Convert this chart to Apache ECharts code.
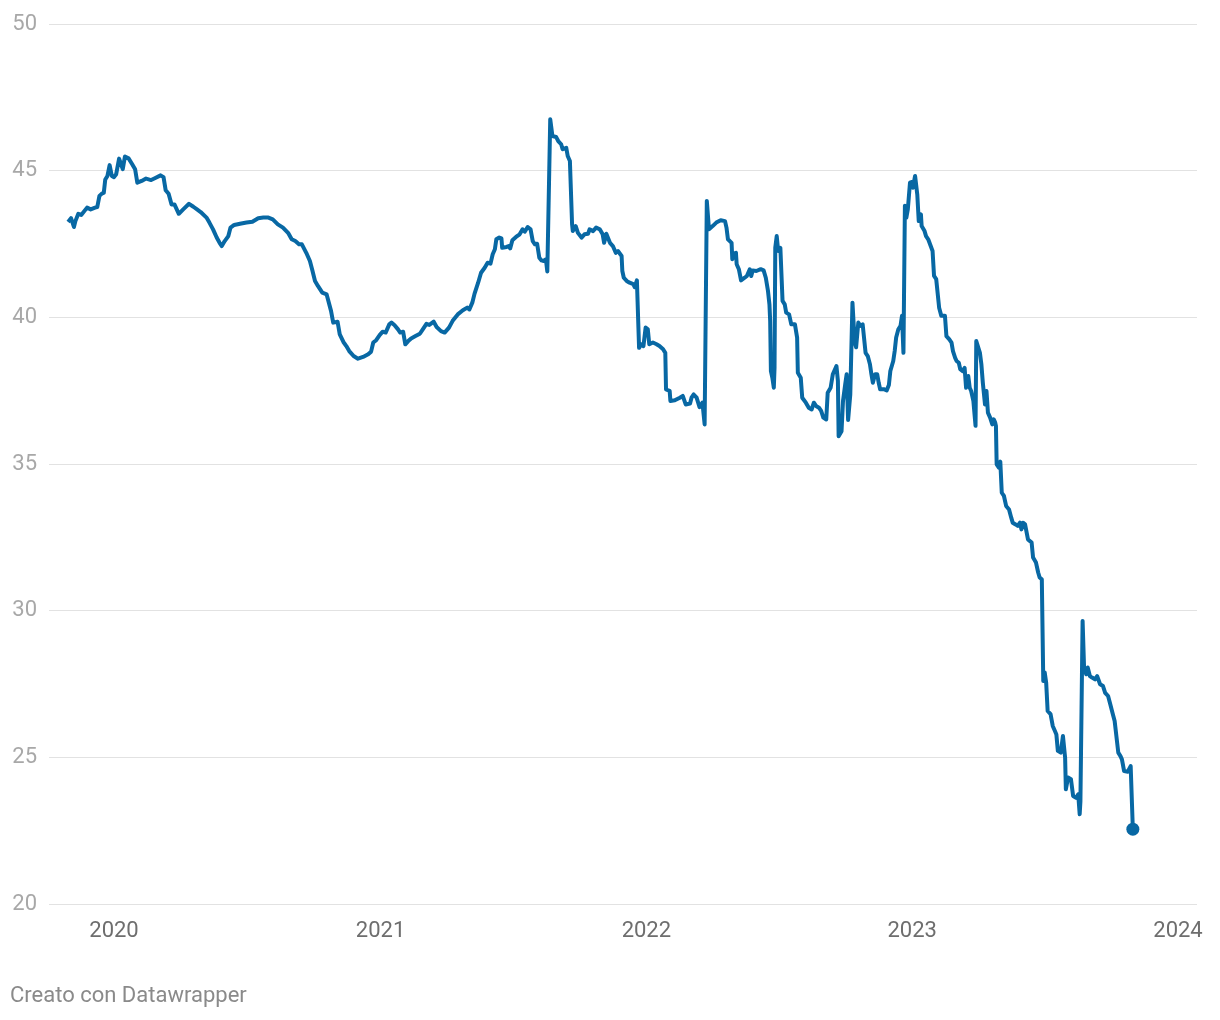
<!DOCTYPE html>
<html><head><meta charset="utf-8">
<script src="https://cdn.jsdelivr.net/npm/echarts@6/dist/echarts.min.js"></script>
<style>html,body{margin:0;padding:0;background:#fff}#c{width:1220px;height:1020px}</style>
</head><body><div id="c"></div>
<script>
const dates = [
'2019-10-30','2019-11-03','2019-11-07','2019-11-09','2019-11-13','2019-11-17','2019-11-25','2019-11-30','2019-12-06','2019-12-09','2019-12-12','2019-12-15','2019-12-18','2019-12-20','2019-12-23','2019-12-26','2019-12-29',
'2020-01-01','2020-01-04','2020-01-08','2020-01-13','2020-01-16','2020-01-21','2020-01-26','2020-01-30','2020-02-02','2020-02-08','2020-02-14','2020-02-21','2020-02-26','2020-03-05','2020-03-09','2020-03-12','2020-03-16','2020-03-20','2020-03-24','2020-03-30','2020-04-05','2020-04-13','2020-04-19','2020-04-24','2020-04-29',
'2020-05-07','2020-05-11','2020-05-16','2020-05-21','2020-05-25','2020-05-28','2020-06-01','2020-06-06','2020-06-09','2020-06-14','2020-06-22','2020-07-01','2020-07-09','2020-07-17','2020-07-24','2020-07-31','2020-08-06','2020-08-13','2020-08-20','2020-08-27','2020-09-01','2020-09-06','2020-09-11','2020-09-15','2020-09-21','2020-09-26','2020-09-29','2020-10-03','2020-10-07','2020-10-13','2020-10-19','2020-10-21','2020-10-25','2020-10-28','2020-11-03','2020-11-06','2020-11-11',
'2020-11-15','2020-11-19','2020-11-25','2020-12-01','2020-12-08','2020-12-15','2020-12-19','2020-12-22','2020-12-26','2020-12-31',
'2021-01-04','2021-01-08','2021-01-13','2021-01-16','2021-01-20','2021-01-25','2021-01-28','2021-02-01','2021-02-04','2021-02-08','2021-02-12','2021-02-18','2021-02-24','2021-02-28','2021-03-05','2021-03-09','2021-03-15','2021-03-19','2021-03-25','2021-03-30','2021-04-05','2021-04-10','2021-04-17','2021-04-24','2021-04-30','2021-05-03','2021-05-07','2021-05-10','2021-05-15','2021-05-19','2021-05-24','2021-05-28',
'2021-06-01','2021-06-04','2021-06-07','2021-06-09','2021-06-13','2021-06-16','2021-06-17','2021-06-23','2021-06-26','2021-06-28','2021-07-01','2021-07-06','2021-07-11','2021-07-15','2021-07-18','2021-07-22','2021-07-26','2021-07-29','2021-08-01','2021-08-04','2021-08-07','2021-08-10','2021-08-13','2021-08-16','2021-08-18','2021-08-22','2021-08-25','2021-08-30','2021-09-02','2021-09-06','2021-09-08','2021-09-13','2021-09-15','2021-09-18','2021-09-20','2021-09-21','2021-09-22','2021-09-26','2021-09-29','2021-10-04','2021-10-08','2021-10-13','2021-10-15','2021-10-20','2021-10-24',
'2021-10-29','2021-11-02','2021-11-04','2021-11-07','2021-11-09','2021-11-12','2021-11-16','2021-11-20','2021-11-23','2021-11-28','2021-11-29','2021-12-01','2021-12-05','2021-12-09','2021-12-14','2021-12-16','2021-12-19','2021-12-21','2021-12-22','2021-12-25','2021-12-28','2021-12-31',
'2022-01-03','2022-01-05','2022-01-10','2022-01-15','2022-01-19','2022-01-24','2022-01-27','2022-01-28','2022-02-02','2022-02-03','2022-02-09','2022-02-16','2022-02-20','2022-02-24','2022-03-02','2022-03-04','2022-03-07','2022-03-11','2022-03-13','2022-03-15','2022-03-19','2022-03-22','2022-03-25','2022-03-28','2022-04-02',
'2022-04-07','2022-04-13','2022-04-19','2022-04-21','2022-04-23','2022-04-28','2022-04-29','2022-05-01','2022-05-04','2022-05-05','2022-05-08','2022-05-11','2022-05-16','2022-05-19','2022-05-23','2022-05-25','2022-05-27','2022-06-01','2022-06-07','2022-06-11','2022-06-14','2022-06-17','2022-06-19','2022-06-20','2022-06-21','2022-06-23','2022-06-25','2022-06-26','2022-06-27','2022-06-29','2022-07-01','2022-07-04','2022-07-06','2022-07-07','2022-07-10','2022-07-12','2022-07-16','2022-07-19','2022-07-24','2022-07-27','2022-07-28','2022-08-01','2022-08-03','2022-08-08','2022-08-12','2022-08-16','2022-08-19','2022-08-22','2022-08-26','2022-08-29','2022-09-01','2022-09-05','2022-09-07','2022-09-11','2022-09-14','2022-09-19','2022-09-21','2022-09-22','2022-09-26','2022-09-28','2022-10-01','2022-10-03','2022-10-05','2022-10-08','2022-10-11','2022-10-14','2022-10-16','2022-10-19',
'2022-10-22','2022-10-25','2022-10-27','2022-10-29','2022-11-01','2022-11-04','2022-11-06','2022-11-08','2022-11-11','2022-11-14','2022-11-16','2022-11-18','2022-11-23','2022-11-27','2022-11-30','2022-12-02','2022-12-06','2022-12-08','2022-12-10','2022-12-13','2022-12-16','2022-12-18','2022-12-20','2022-12-22','2022-12-24','2022-12-26','2022-12-29',
'2023-01-01','2023-01-02','2023-01-05','2023-01-08','2023-01-10','2023-01-13','2023-01-14','2023-01-18','2023-01-20','2023-01-23','2023-01-25','2023-01-29','2023-01-31','2023-02-03','2023-02-07','2023-02-10','2023-02-12','2023-02-15','2023-02-17','2023-02-21','2023-02-24','2023-02-26','2023-03-01','2023-03-03','2023-03-06','2023-03-08','2023-03-11','2023-03-14','2023-03-16','2023-03-19','2023-03-21','2023-03-23','2023-03-26','2023-03-29','2023-03-30','2023-04-01','2023-04-04','2023-04-06','2023-04-08','2023-04-11','2023-04-13','2023-04-15','2023-04-18','2023-04-21','2023-04-23','2023-04-25','2023-04-26','2023-04-27','2023-04-30',
'2023-05-02','2023-05-04','2023-05-07','2023-05-10','2023-05-14','2023-05-17','2023-05-19','2023-05-23','2023-05-26','2023-05-29','2023-05-31','2023-06-02','2023-06-05','2023-06-09','2023-06-14','2023-06-16','2023-06-20','2023-06-23','2023-06-25','2023-06-28','2023-06-30','2023-07-02','2023-07-04','2023-07-06','2023-07-10','2023-07-13','2023-07-16','2023-07-18','2023-07-20','2023-07-24','2023-07-27','2023-07-30','2023-07-31','2023-08-03','2023-08-07','2023-08-10','2023-08-14','2023-08-17','2023-08-19','2023-08-20','2023-08-23','2023-08-25','2023-08-28','2023-08-30','2023-09-02','2023-09-05','2023-09-09','2023-09-12','2023-09-14','2023-09-16','2023-09-20','2023-09-23','2023-09-27','2023-09-30','2023-10-03','2023-10-06','2023-10-08','2023-10-11','2023-10-14','2023-10-16','2023-10-19','2023-10-24','2023-10-28','2023-10-30','2023-10-31'
];
const values = [
43.25,43.38,43.08,43.28,43.53,43.49,43.74,43.68,43.74,43.76,44.14,44.21,44.25,44.70,44.82,45.19,44.82,
44.78,44.88,45.41,45.05,45.48,45.42,45.22,45.05,44.59,44.65,44.73,44.68,44.74,44.84,44.78,44.33,44.21,43.85,43.85,43.53,43.68,43.87,43.77,43.68,43.59,
43.40,43.23,43.00,42.72,42.54,42.43,42.60,42.77,43.06,43.15,43.19,43.23,43.26,43.38,43.40,43.40,43.34,43.17,43.06,42.88,42.66,42.60,42.49,42.49,42.20,41.92,41.64,41.24,41.07,40.84,40.78,40.73,40.22,39.82,39.85,39.42,39.16,
39.02,38.85,38.68,38.59,38.65,38.74,38.83,39.14,39.22,39.40,
39.51,39.48,39.76,39.82,39.74,39.59,39.48,39.51,39.08,39.19,39.28,39.36,39.44,39.59,39.78,39.74,39.85,39.67,39.53,39.48,39.65,39.88,40.10,40.24,40.33,40.27,40.50,40.80,41.18,41.52,41.69,41.86,
41.83,42.15,42.32,42.66,42.72,42.69,42.37,42.40,42.43,42.35,42.63,42.74,42.83,43.00,42.92,43.08,43.00,42.60,42.49,42.51,42.03,41.94,41.92,41.98,41.56,46.75,46.18,46.15,46.01,45.90,45.73,45.78,45.50,45.33,45.39,43.17,42.94,43.11,42.88,42.72,42.83,42.85,43.00,42.94,43.06,
43.00,42.83,42.54,42.85,42.83,42.54,42.43,42.20,42.26,42.09,41.58,41.35,41.24,41.18,41.13,41.03,41.26,41.30,38.96,39.08,39.02,39.65,
39.59,39.08,39.14,39.08,39.02,38.91,38.79,37.54,37.49,37.15,37.17,37.26,37.32,37.03,37.06,37.26,37.37,37.26,37.20,36.94,37.09,36.35,43.97,43.00,43.11,
43.23,43.31,43.28,43.06,42.66,42.54,41.98,42.17,42.20,41.81,41.64,41.26,41.35,41.41,41.64,41.41,41.60,41.58,41.64,41.60,41.35,40.90,40.44,39.88,38.17,37.94,37.60,38.28,42.37,42.77,42.26,42.37,42.43,40.56,40.44,40.16,40.10,39.76,39.76,39.31,38.11,37.94,37.26,37.09,36.92,36.86,37.09,36.98,36.92,36.81,36.58,36.52,37.43,37.60,38.06,38.34,37.83,35.95,36.12,37.15,37.71,38.06,36.50,37.37,40.50,39.16,38.98,39.82,
39.71,39.76,39.76,38.79,38.68,38.40,38.06,37.77,38.06,38.06,37.77,37.55,37.55,37.51,37.69,38.17,38.51,38.85,39.31,39.59,39.71,40.05,38.79,43.80,43.40,43.68,44.59,
44.62,44.42,44.82,44.19,43.28,43.51,43.11,42.94,42.77,42.66,42.60,42.26,41.41,41.30,40.33,40.05,39.99,40.05,39.36,39.25,39.14,38.85,38.62,38.51,38.45,38.23,38.17,38.28,37.60,38.00,37.60,37.49,37.15,36.30,39.19,39.14,38.79,38.40,37.77,37.03,37.49,36.75,36.58,36.35,36.52,36.41,36.30,34.99,34.88,
35.08,34.02,33.91,33.57,33.45,33.17,33.00,32.94,32.89,33.00,32.77,33.00,32.94,32.43,32.32,31.81,31.64,31.30,31.13,31.07,27.60,27.89,27.54,26.58,26.47,26.07,25.90,25.78,25.22,25.16,25.73,24.99,23.91,24.31,24.25,23.68,23.62,23.74,23.06,23.50,29.65,28.06,27.83,28.06,27.77,27.72,27.66,27.77,27.77,27.49,27.43,27.20,27.09,26.81,26.52,26.24,26.24,25.16,25.04,24.93,24.53,24.51,24.70,24.65,22.55
];
const yearLabels = ['2020','2021','2022','2023','2024'];
const footer = 'Creato con Datawrapper';

const ts = d => new Date(d + 'T00:00:00Z').getTime();
const seriesData = dates.map((d, i) => [ts(d), values[i]]);
const lastPoint = seriesData[seriesData.length - 1];

const chart = echarts.init(document.getElementById('c'), null, {renderer: 'canvas'});
const DAY = 86400000;
chart.setOption({
  useUTC: true,
  animation: false,
  backgroundColor: '#ffffff',
  textStyle: {fontFamily: 'Roboto'},
  title: {
    text: footer, left: 5, top: 980,
    textStyle: {fontSize: 22, fontWeight: 'normal', color: '#8a8a8a', fontFamily: 'Roboto'}
  },
  grid: {left: 49, right: 23, top: 24, bottom: 116, containLabel: false},
  xAxis: {
    type: 'time',
    min: Date.UTC(2019, 9, 3, 18),
    max: Date.UTC(2024, 0, 27, 2),
    minInterval: 365 * DAY,
    maxInterval: 366 * DAY,
    axisLine: {show: false},
    axisTick: {show: false},
    splitLine: {show: false},
    axisLabel: {
      showMinLabel: false, showMaxLabel: false,
      color: '#6e6e6e', fontSize: 22, margin: 16, fontFamily: 'Roboto',
      formatter: function (v) {
        const d = new Date(v);
        const y = String(d.getUTCFullYear());
        return (d.getUTCMonth() === 0 && d.getUTCDate() === 1 && yearLabels.indexOf(y) >= 0) ? y : '';
      }
    }
  },
  yAxis: {
    type: 'value', min: 20, max: 50, interval: 5,
    axisLine: {show: false}, axisTick: {show: false},
    splitLine: {lineStyle: {color: '#e2e2e2', width: 1}},
    axisLabel: {color: '#a8a8a8', fontSize: 22, margin: 12, fontFamily: 'Roboto'}
  },
  series: [
    {
      type: 'line', data: seriesData, showSymbol: false, symbol: 'none',
      lineStyle: {color: '#0868a4', width: 4, join: 'round'},
      z: 2
    },
    {
      type: 'scatter', data: [lastPoint], symbolSize: 13,
      itemStyle: {color: '#0868a4', opacity: 1}, z: 3
    }
  ]
});
</script></body></html>
